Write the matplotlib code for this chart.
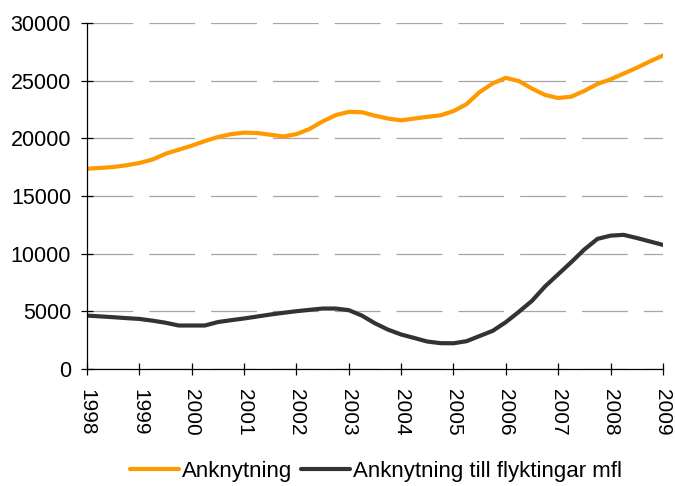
import matplotlib
matplotlib.use("Agg")
import matplotlib.pyplot as plt

plt.rcParams["font.family"] = ["Liberation Sans", "DejaVu Sans"]
plt.rcParams["lines.scale_dashes"] = False

# quarterly observations, 1998 Q1 .. 2009 Q1
quarters = [1998 + i / 4 for i in range(45)]

anknytning = [
    17350, 17420, 17500, 17650, 17850, 18150, 18650, 19000,
    19350, 19750, 20100, 20350, 20480, 20450, 20300, 20150,
    20350, 20800, 21450, 22000, 22280, 22250, 21950, 21700,
    21550, 21700, 21850, 21980, 22350, 22950, 24000, 24750,
    25230, 24950, 24300, 23750, 23480, 23600, 24100, 24700,
    25100, 25600, 26100, 26650, 27170,
]
flyktingar = [
    4620, 4550, 4480, 4400, 4330, 4180, 4000, 3760,
    3760, 3760, 4060, 4220, 4370, 4540, 4710, 4860,
    5000, 5120, 5230, 5230, 5090, 4620, 3950, 3400,
    2980, 2680, 2370, 2230, 2220, 2400, 2850, 3300,
    4050, 4950, 5900, 7150, 8200, 9250, 10350, 11270,
    11550, 11620, 11350, 11050, 10750,
]
years = list(range(1998, 2010))
labels = ["Anknytning", "Anknytning till flyktingar mfl"]

fig = plt.figure(figsize=(6.75, 4.86), dpi=100)
ax = fig.add_axes([0.129, 0.241, 0.853, 0.712])

ax.plot(quarters, anknytning, color="#FF9900", lw=3.0,
        solid_joinstyle="round", solid_capstyle="round", label=labels[0])
ax.plot(quarters, flyktingar, color="#333333", lw=3.0,
        solid_joinstyle="round", solid_capstyle="round", label=labels[1])

ax.set_xlim(1998, 2009)
ax.set_ylim(0, 30000)
ax.set_xticks(years)
ax.set_xticklabels([str(y) for y in years], rotation=-90)
ax.set_yticks(range(0, 30001, 5000))

ax.yaxis.grid(True, color="#a6a6a6", lw=0.9, linestyle=(0, (33, 11.5)))
ax.set_axisbelow(True)
for s in ("top", "right"):
    ax.spines[s].set_visible(False)
for s in ("left", "bottom"):
    ax.spines[s].set_linewidth(0.9)
ax.tick_params(direction="inout", length=9, width=0.9)
ax.tick_params(axis="y", labelsize=15.5, pad=7)
ax.tick_params(axis="x", labelsize=15, pad=10)

fig.legend(loc="lower center", bbox_to_anchor=(0.557, -0.033), ncol=2,
           frameon=False, fontsize=16, handlelength=2.2,
           handletextpad=0.15, columnspacing=0.4)

fig.savefig("out.png", dpi=100)
